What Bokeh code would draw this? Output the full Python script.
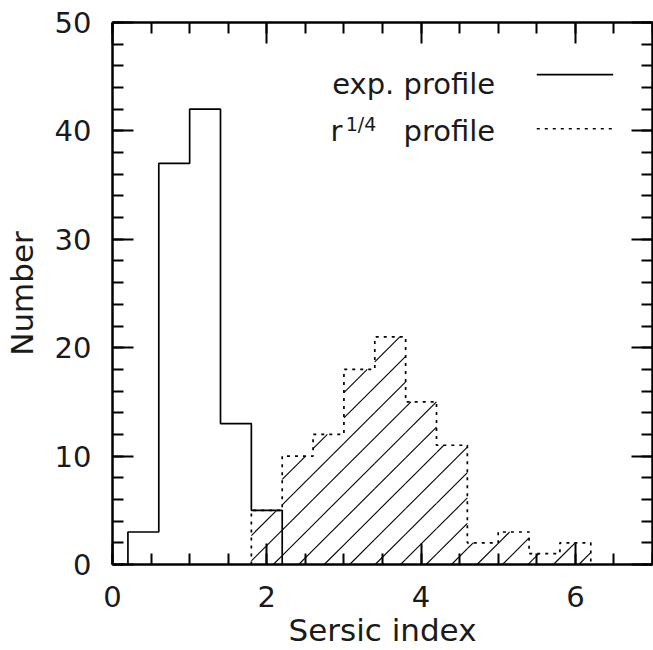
from bokeh.plotting import figure
from bokeh.models import LinearAxis, SingleIntervalTicker, Range1d, CustomJSTickFormatter
from bokeh.core.properties import value
from bokeh.embed import file_html
from bokeh.resources import INLINE

# ---- data ----
bin_width = 0.4
exp_left = [0.2, 0.6, 1.0, 1.4, 1.8]
exp_counts = [3, 37, 42, 13, 5]
dev_left = [1.8, 2.2, 2.6, 3.0, 3.4, 3.8, 4.2, 4.6, 5.0, 5.4, 5.8]
dev_counts = [5, 10, 12, 18, 21, 15, 11, 2, 3, 1, 2]
x_label = "Sersic index"
y_label = "Number"
legend_exp = "exp. profile"
legend_dev_r = "r"
legend_dev_sup = "1/4"
legend_dev_rest = "profile"

FONT = "DejaVu Sans"
TXT = "#1a1a1a"

# ---- layout ----
W, H = 653, 650
B_LEFT, B_RIGHT, B_TOP, B_BOTTOM = 112, 1, 22, 84
X_MAX, Y_MAX = 7, 50
FRAME_W = W - B_LEFT - B_RIGHT
FRAME_H = H - B_TOP - B_BOTTOM


def step_outline(lefts, width, counts):
    xs = [lefts[0]]
    ys = [0]
    for l, c in zip(lefts, counts):
        xs += [l, l + width]
        ys += [c, c]
    xs.append(lefts[-1] + width)
    ys.append(0)
    return xs, ys


def hatch_segments(lefts, width, counts, spacing_px=25.47, offset_px=7.9):
    """45-degree (on screen) hatch lines clipped to each histogram bin."""
    px_x = FRAME_W / X_MAX
    px_y = FRAME_H / Y_MAX
    slope = px_x / px_y
    spacing = spacing_px / px_x
    off = offset_px / px_x
    x0s, y0s, x1s, y1s = [], [], [], []
    k = -400
    while off + k * spacing < X_MAX:
        xi = off + k * spacing
        k += 1
        for l, c in zip(lefts, counts):
            r = l + width
            a = max(l, xi)
            b = min(r, xi + c / slope)
            if b > a:
                x0s.append(a); y0s.append(slope * (a - xi))
                x1s.append(b); y1s.append(slope * (b - xi))
    return x0s, y0s, x1s, y1s


p = figure(width=W, height=H, x_range=Range1d(0, X_MAX), y_range=Range1d(0, Y_MAX),
           output_backend="svg", toolbar_location=None,
           min_border_left=B_LEFT, min_border_right=B_RIGHT,
           min_border_top=B_TOP, min_border_bottom=B_BOTTOM)
p.grid.visible = False
p.outline_line_color = None
p.background_fill_color = "white"
p.border_fill_color = "white"

# hatched r^1/4 histogram
hx0, hy0, hx1, hy1 = hatch_segments(dev_left, bin_width, dev_counts)
p.segment(x0=hx0, y0=hy0, x1=hx1, y1=hy1, line_color="black", line_width=1.1)

# outlines
ex, ey = step_outline(exp_left, bin_width, exp_counts)
p.line(ex, ey, line_color="black", line_width=1.7)
dx, dy = step_outline(dev_left, bin_width, dev_counts)
p.line(dx, dy, line_color="black", line_width=1.7, line_dash="3 5")

# legend (label on the left, line sample on the right)
p.text(x=[4.96], y=[44.3], text=[legend_exp], text_font=value(FONT),
       text_font_size="29px", text_align="right", text_baseline="alphabetic", text_color=TXT)
p.line([5.5, 6.49], [45.2, 45.2], line_color="black", line_width=1.7)
p.text(x=[4.96], y=[39.95], text=[legend_dev_rest], text_font=value(FONT),
       text_font_size="29px", text_align="right", text_baseline="alphabetic", text_color=TXT)
p.text(x=[3.42], y=[40.6], text=[legend_dev_sup], text_font=value(FONT),
       text_font_size="19px", text_align="right", text_baseline="alphabetic", text_color=TXT)
p.text(x=[2.98], y=[39.95], text=[legend_dev_r], text_font=value(FONT),
       text_font_size="29px", text_align="right", text_baseline="alphabetic", text_color=TXT)
p.line([5.5, 6.49], [40.2, 40.2], line_color="black", line_width=1.7, line_dash="3 5")


def style_axis(ax, ticker, labels=True):
    ax.ticker = ticker
    ax.axis_line_width = 2.5
    ax.axis_line_color = "black"
    ax.major_tick_in = 21
    ax.major_tick_out = 0
    ax.minor_tick_in = 11
    ax.minor_tick_out = 0
    ax.major_tick_line_width = 2
    ax.minor_tick_line_width = 2
    ax.major_tick_line_color = "black"
    ax.minor_tick_line_color = "black"
    if labels:
        ax.major_label_text_font = FONT
        ax.major_label_text_font_size = "29px"
        ax.major_label_text_color = TXT
        ax.major_label_standoff = 21
        ax.axis_label_text_font = FONT
        ax.axis_label_text_font_size = "31px"
        ax.axis_label_text_font_style = "normal"
        ax.axis_label_text_color = TXT
    else:
        ax.formatter = CustomJSTickFormatter(code="return ''")
        ax.major_label_standoff = 0
        ax.major_label_text_font_size = "1px"


xt = lambda: SingleIntervalTicker(interval=2, num_minor_ticks=4)
yt = lambda: SingleIntervalTicker(interval=10, num_minor_ticks=5)

style_axis(p.xaxis[0], xt())
p.xaxis[0].axis_label = x_label
p.xaxis[0].axis_label_standoff = 2
style_axis(p.yaxis[0], yt())
p.yaxis[0].axis_label = y_label
p.yaxis[0].axis_label_standoff = 12

top = LinearAxis()
style_axis(top, xt(), labels=False)
p.add_layout(top, "above")
right = LinearAxis()
style_axis(right, yt(), labels=False)
p.add_layout(right, "right")

open("out.html", "w").write(file_html(p, INLINE))
